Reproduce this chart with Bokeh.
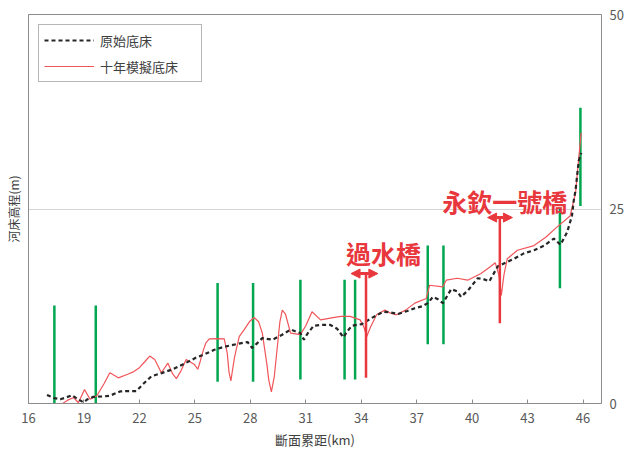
from bokeh.plotting import figure
from bokeh.models import (FixedTicker, LinearAxis, Range1d, Legend, LegendItem,
                          Arrow, NormalHead, Label)
from bokeh.embed import file_html
from bokeh.resources import INLINE

FONT = "Noto Sans CJK TC"

# ---- data ----
x_ticks = [16, 19, 22, 25, 28, 31, 34, 37, 40, 43, 46]
y_ticks_right = [0, 25, 50]

orig_km = [17.0, 17.4, 17.72, 18.0, 18.35, 18.65, 18.97, 19.2, 19.5, 20.0, 20.4,
           20.95, 21.4, 21.84, 22.2, 22.65, 23.2, 23.8, 24.5, 25.07, 25.5, 26.05,
           26.6, 27.3, 27.85, 28.1, 28.35, 28.65, 29.2, 29.7, 30.18, 30.71, 30.9,
           31.1, 31.43, 31.9, 32.33, 32.7, 33.04, 33.25, 33.5, 34.03, 34.57, 35.2,
           35.6, 36.0, 36.5, 36.9, 37.3, 37.6, 37.88, 38.15, 38.42, 38.87, 39.2,
           39.4, 39.8, 40.3, 40.6, 40.93, 41.38, 41.8, 42.27, 42.8, 43.35, 43.9,
           44.42, 44.78, 45.14, 45.4, 45.5, 45.6, 45.77, 45.9]
orig_z = [1.1, 0.7, 0.55, 0.75, 1.06, 0.6, 0.15, 0.55, 0.85, 0.9, 1.0,
          1.55, 1.6, 1.6, 2.5, 3.5, 3.9, 4.4, 5.2, 5.9, 6.3, 6.9,
          7.3, 7.65, 7.9, 7.14, 7.7, 8.4, 8.2, 8.8, 9.5, 9.05, 8.2,
          9.0, 10.0, 10.1, 10.1, 9.6, 8.5, 9.3, 10.0, 10.2, 11.0, 11.8,
          11.7, 11.5, 11.9, 12.25, 12.5, 12.9, 13.7, 13.4, 12.9, 14.7, 14.4,
          13.7, 14.6, 16.1, 16.0, 15.7, 17.6, 18.1, 18.6, 19.3, 19.7, 20.3,
          21.2, 20.4, 22.0, 24.1, 26.1, 27.5, 31.2, 32.2]

sim_km = [17.6, 17.72, 18.1, 18.44, 18.7, 19.03, 19.33, 19.7, 20.1, 20.4, 20.86,
          21.4, 21.7, 22.0, 22.3, 22.56, 22.83, 23.19, 23.54, 23.8, 24.0, 24.25,
          24.53, 24.98, 25.16, 25.3, 25.45, 25.6, 25.78, 26.2, 26.59, 26.75, 26.85,
          26.95, 27.05, 27.15, 27.4, 27.67, 27.95, 28.2, 28.45, 28.65, 28.9, 29.0,
          29.14, 29.3, 29.45, 29.6, 29.73, 29.9, 30.18, 30.71, 31.0, 31.34, 31.8,
          32.4, 32.9, 33.4, 33.94, 34.15, 34.3, 34.5, 34.83, 35.28, 35.6, 35.9,
          36.4, 36.9, 37.52, 37.7, 38.42, 38.6, 39.2, 39.76, 40.48, 41.0, 41.25,
          41.45, 41.58, 41.72, 41.9, 42.45, 43.35, 44.0, 44.6, 45.3, 45.6, 45.77,
          45.9]
sim_z = [-0.5, -0.2, 0.4, 0.77, 0.1, 1.8, 0.55, 1.0, 2.6, 3.95, 3.3,
         3.8, 4.1, 4.6, 5.4, 6.1, 5.65, 3.95, 5.2, 3.8, 3.2, 4.2,
         5.65, 5.0, 4.4, 5.5, 6.8, 7.8, 8.3, 8.35, 8.3, 6.5, 4.0,
         2.9, 4.5, 6.0, 8.6, 9.5, 10.5, 11.05, 10.5, 9.05, 5.0, 3.0,
         1.5, 3.5, 7.0, 10.5, 12.0, 11.5, 9.05, 8.85, 10.0, 11.8, 10.75,
         11.0, 11.2, 11.2, 10.75, 9.8, 8.6, 9.8, 11.4, 12.0, 11.6, 11.4,
         12.0, 12.9, 13.5, 15.2, 15.0, 15.85, 16.1, 15.85, 16.7, 17.6, 18.1,
         16.5, 13.9, 16.5, 18.6, 19.7, 20.3, 21.4, 22.7, 24.1, 27.1, 31.6,
         34.8]

struct_km = [17.4, 19.64, 26.23, 28.15, 30.71, 33.1, 33.67, 37.6, 38.45, 44.75, 45.86]
struct_bot = [0, 0, 2.8, 2.8, 3.1, 3.1, 3.1, 7.6, 7.6, 14.8, 25.4]
struct_top = [12.6, 12.6, 15.5, 15.5, 15.9, 15.9, 15.9, 20.3, 20.3, 25.2, 38.0]

bridge_names = ["過水橋", "永欽一號橋"]
bridge_km = [34.26, 41.5]
bridge_bot = [3.3, 10.3]
bridge_top = [16.7, 23.9]
arrow_x0 = [33.45, 40.84]
arrow_x1 = [34.9, 42.18]
label_km = [35.2, 41.76]
label_z = [19.3, 26.0]

# ---- figure ----
p = figure(width=626, height=451, output_backend="svg", toolbar_location=None,
           x_range=Range1d(16, 47), y_range=Range1d(0, 50),
           min_border_left=28, min_border_right=23, min_border_top=14,
           min_border_bottom=46)
p.background_fill_color = "white"
p.border_fill_color = "white"
p.outline_line_color = "#8c8c8c"
p.outline_line_width = 1

# x axis
xa = p.xaxis[0]
xa.ticker = FixedTicker(ticks=x_ticks)
xa.minor_tick_line_color = None
xa.major_tick_in = 4
xa.major_tick_out = 0
xa.major_tick_line_color = "#8c8c8c"
xa.axis_line_color = "#8c8c8c"
xa.major_label_standoff = 9
xa.major_label_text_font = FONT
xa.major_label_text_font_size = "13px"
xa.major_label_text_color = "#595959"
xa.axis_label = "斷面累距(km)"
xa.axis_label_text_font = FONT
xa.axis_label_text_font_size = "13px"
xa.axis_label_text_font_style = "normal"
xa.axis_label_text_color = "#404040"
xa.axis_label_standoff = 4

# left y axis (label only)
ya = p.yaxis[0]
ya.ticker = FixedTicker(ticks=[])
ya.minor_tick_line_color = None
ya.major_tick_in = 0
ya.major_tick_out = 0
ya.axis_line_color = "#8c8c8c"
ya.axis_label = "河床高程(m)"
ya.axis_label_text_font = FONT
ya.axis_label_text_font_size = "12px"
ya.axis_label_text_font_style = "normal"
ya.axis_label_text_color = "#404040"
ya.axis_label_standoff = 7

# right axis with labels
ra = LinearAxis(ticker=FixedTicker(ticks=y_ticks_right))
ra.axis_line_color = None
ra.major_tick_line_color = None
ra.minor_tick_line_color = None
ra.major_tick_in = 0
ra.major_tick_out = 0
ra.major_label_standoff = 8
ra.major_label_text_font = FONT
ra.major_label_text_font_size = "13px"
ra.major_label_text_color = "#595959"
p.add_layout(ra, "right")

p.xgrid.grid_line_color = None
p.ygrid.ticker = FixedTicker(ticks=[25])
p.ygrid.grid_line_color = "#d4d4d4"

# structures (green)
p.segment(x0=struct_km, y0=struct_bot, x1=struct_km, y1=struct_top,
          line_color="#00a650", line_width=2.5)

# lines
r_sim = p.line(sim_km, sim_z, line_color="#f0555a", line_width=1.2)
r_orig = p.line(orig_km, orig_z, line_color="#262626", line_width=2.2,
                line_dash="4 3")

# bridges (red)
p.segment(x0=bridge_km, y0=bridge_bot, x1=bridge_km, y1=bridge_top,
          line_color="#e8383d", line_width=2.5)
for i in range(len(bridge_km)):
    p.add_layout(Arrow(x_start=arrow_x0[i], y_start=bridge_top[i],
                       x_end=arrow_x1[i], y_end=bridge_top[i],
                       line_color="#e8383d", line_width=3,
                       start=NormalHead(size=9, fill_color="#e8383d", line_color="#e8383d"),
                       end=NormalHead(size=9, fill_color="#e8383d", line_color="#e8383d")))
    p.add_layout(Label(x=label_km[i], y=label_z[i], text=bridge_names[i],
                       text_align="center", text_baseline="middle",
                       text_font=FONT, text_font_size="25px",
                       text_font_style="bold", text_color="#e8383d"))

legend = Legend(items=[LegendItem(label="原始底床", renderers=[r_orig]),
                       LegendItem(label="十年模擬底床", renderers=[r_sim])],
                location="top_left", margin=10, padding=5, spacing=6,
                glyph_width=50, glyph_height=20, label_standoff=6,
                label_width=96,
                label_text_font=FONT, label_text_font_size="13px",
                label_text_color="#404040",
                border_line_color="#6e6e6e", border_line_width=1,
                background_fill_alpha=1)
p.add_layout(legend)

open("out.html", "w").write(file_html(p, INLINE))
